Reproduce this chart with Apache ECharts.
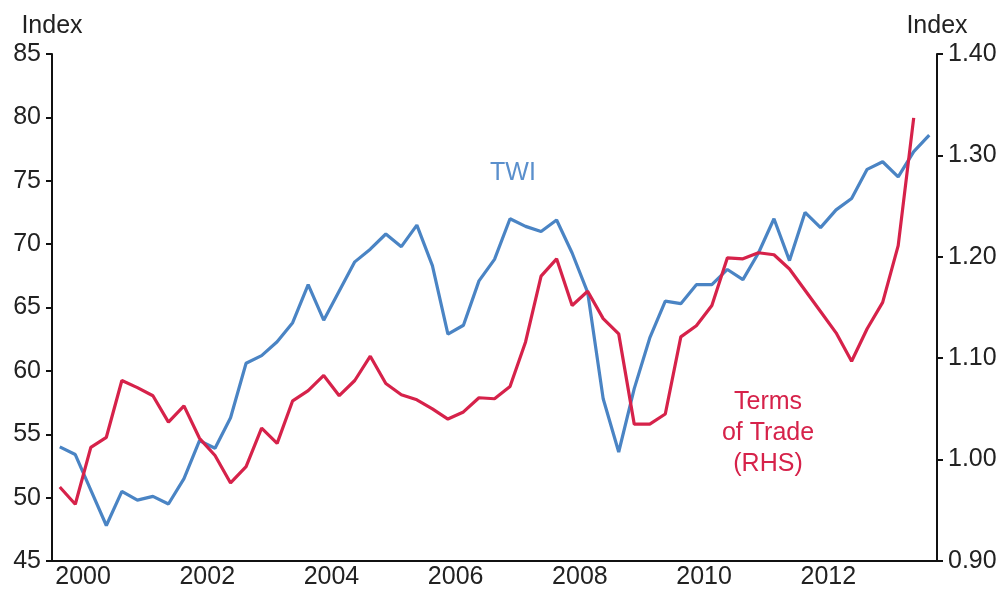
<!DOCTYPE html>
<html lang="en">

<head>
    <meta charset="UTF-8">
    <title>TWI and Terms of Trade</title>
    <script src="https://cdn.jsdelivr.net/npm/echarts@6/dist/echarts.min.js"></script>
    <style>
        body { margin: 0; background: #fff; }
    </style>
</head>

<body>
    <div id="main" style="width: 1003px;height:590px;"></div>
    <script type="text/javascript">
        // quarterly data, 2000Q1 .. 2014Q1
        const quarters = [];
        for (let y = 2000; y <= 2014; y++) {
            for (let q = 1; q <= 4; q++) {
                if (y === 2014 && q > 1) break;
                quarters.push(y + 'Q' + q);
            }
        }

        // trade-weighted index (LHS)
        const twi = [
            54.0, 53.4, 50.6, 47.8, 50.5, 49.8, 50.1, 49.5,
            51.5, 54.5, 53.9, 56.3, 60.6, 61.2, 62.3, 63.8,
            66.8, 64.0, 66.3, 68.6, 69.6, 70.8, 69.8, 71.5,
            68.3, 62.9, 63.6, 67.1, 68.8, 72.0, 71.4, 71.0,
            71.9, 69.3, 66.2, 57.8, 53.6, 58.6, 62.6, 65.5,
            65.3, 66.8, 66.8, 68.0, 67.2, 69.3, 72.0, 68.7,
            72.5, 71.3, 72.7, 73.6, 75.9, 76.5, 75.3, 77.3,
            78.6
        ];

        // terms of trade (RHS), ends 2013Q4
        const tot = [
            0.973, 0.956, 1.012, 1.022, 1.078, 1.071, 1.063, 1.037,
            1.053, 1.021, 1.004, 0.977, 0.993, 1.031, 1.016, 1.058,
            1.068, 1.083, 1.063, 1.078, 1.102, 1.075, 1.064, 1.059,
            1.050, 1.040, 1.047, 1.061, 1.060, 1.072, 1.116, 1.181,
            1.198, 1.152, 1.166, 1.139, 1.124, 1.035, 1.035, 1.045,
            1.121, 1.132, 1.152, 1.199, 1.198, 1.204, 1.202, 1.188,
            1.167, 1.146, 1.125, 1.097, 1.129, 1.155, 1.211, 1.337
        ];

        const blue = '#4a84c4';
        const red = '#d6224a';
        const font = 'Liberation Sans, Arial, sans-serif';
        const fs = 25;

        let myChart = echarts.init(document.getElementById('main'));

        const axisCommon = {
            axisLine: { show: true, lineStyle: { color: '#111', width: 2 } },
            axisTick: { show: true, length: 6, lineStyle: { color: '#111', width: 2 } },
            splitLine: { show: false },
            nameTextStyle: { color: '#222', fontSize: fs, fontFamily: font },
            axisLabel: { color: '#222', fontSize: fs, fontFamily: font, margin: 11 }
        };

        let options = {
            animation: false,
            grid: { left: 52, right: 66, top: 54, bottom: 27 },
            xAxis: {
                type: 'category',
                data: quarters,
                boundaryGap: true,
                axisLine: { lineStyle: { color: '#111', width: 2 } },
                axisTick: {
                    length: 6,
                    interval: (i) => i % 4 === 0,
                    lineStyle: { color: '#111', width: 2 }
                },
                axisLabel: {
                    interval: (i) => i % 8 === 1,
                    formatter: (v) => v.slice(0, 4),
                    color: '#222',
                    fontSize: fs,
                    fontFamily: font,
                    margin: 4,
                    padding: [0, 0, 0, 15.5]
                }
            },
            yAxis: [
                Object.assign({}, axisCommon, {
                    type: 'value',
                    name: 'Index',
                    nameLocation: 'end',
                    nameGap: 15,
                    min: 45, max: 85, interval: 5,
                    position: 'left'
                }),
                Object.assign({}, axisCommon, {
                    type: 'value',
                    name: 'Index',
                    nameLocation: 'end',
                    nameGap: 15,
                    min: 0.9, max: 1.4, interval: 0.1,
                    position: 'right',
                    axisLabel: Object.assign({}, axisCommon.axisLabel, {
                        formatter: (v) => v.toFixed(2)
                    })
                })
            ],
            series: [
                {
                    name: 'TWI',
                    type: 'line',
                    yAxisIndex: 0,
                    data: twi,
                    symbol: 'none',
                    lineStyle: { color: blue, width: 3.2 },
                    z: 2
                },
                {
                    name: 'Terms of Trade (RHS)',
                    type: 'line',
                    yAxisIndex: 1,
                    data: tot,
                    symbol: 'none',
                    lineStyle: { color: red, width: 3.2 },
                    z: 3
                }
            ],
            graphic: [
                {
                    type: 'text',
                    style: {
                        x: 513, y: 173, text: 'TWI', fill: '#5a8fcc',
                        align: 'center', verticalAlign: 'middle', font: fs + 'px ' + font
                    }
                },
                {
                    type: 'text',
                    style: {
                        x: 768, y: 387, text: 'Terms\nof Trade\n(RHS)', fill: red,
                        align: 'center', verticalAlign: 'top',
                        lineHeight: 31, font: fs + 'px ' + font
                    }
                }
            ]
        };

        myChart.setOption(options);
    </script>
</body>

</html>
